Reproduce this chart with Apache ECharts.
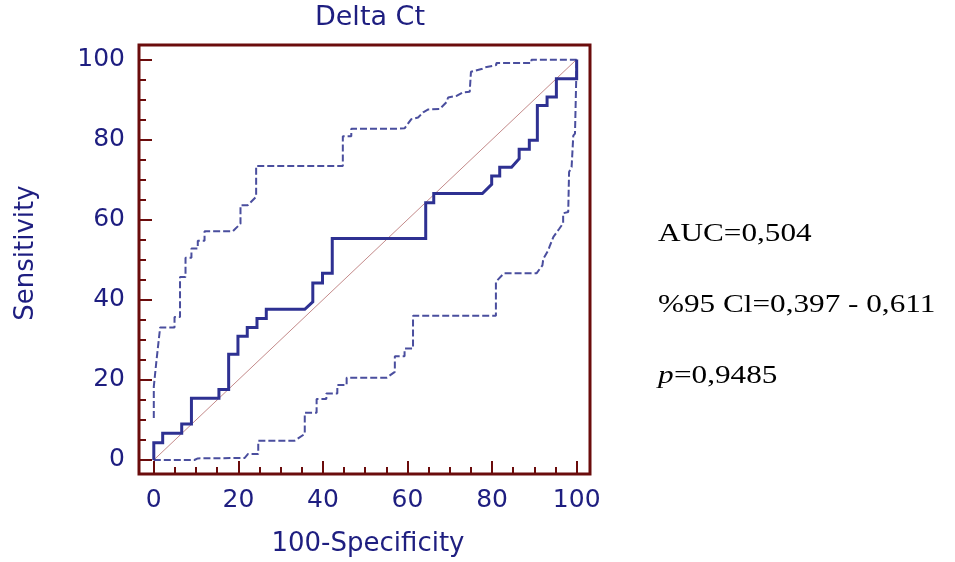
<!DOCTYPE html>
<html>
<head>
<meta charset="utf-8">
<script src="https://cdn.jsdelivr.net/npm/echarts@6/dist/echarts.min.js"></script>
<style>html,body{margin:0;padding:0;background:#fff}#c{width:955px;height:562px}</style>
</head>
<body>
<div id="c"></div>
<script>
// ---- data (percent) ----
const xTickValues = [0, 20, 40, 60, 80, 100];
const yTickValues = [0, 20, 40, 60, 80, 100];
const minorTickValues = [5, 10, 15, 25, 30, 35, 45, 50, 55, 65, 70, 75, 85, 90, 95];

const rocX = [0, 0, 2.1, 2.1, 6.6, 6.6, 8.9, 8.9, 15.4, 15.4, 17.7, 17.7, 19.9, 19.9, 22.1, 22.1, 24.4, 24.4, 26.6, 26.6, 35.7, 37.6, 37.6, 39.9, 39.9, 42.2, 42.2, 64.3, 64.3, 66.2, 66.2, 77.7, 79.9, 79.9, 81.8, 81.8, 84.6, 86.4, 86.4, 88.8, 88.8, 90.7, 90.7, 93.0, 93.0, 95.2, 95.2, 100, 100];
const rocY = [0, 4.3, 4.3, 6.7, 6.7, 9.0, 9.0, 15.4, 15.4, 17.6, 17.6, 26.4, 26.4, 30.9, 30.9, 33.1, 33.1, 35.3, 35.3, 37.6, 37.6, 39.5, 44.2, 44.2, 46.6, 46.6, 55.3, 55.3, 64.2, 64.2, 66.5, 66.5, 68.8, 70.9, 70.9, 73.1, 73.1, 75.2, 77.6, 77.6, 79.8, 79.8, 88.5, 88.5, 90.6, 90.6, 95.2, 95.2, 100];

const upperX = [0, 0, 0.6, 1.5, 4.9, 4.9, 6.2, 6.2, 7.5, 7.5, 8.9, 8.9, 10.4, 10.4, 12.0, 12.0, 18.7, 20.5, 20.5, 22.2, 24.2, 24.2, 44.7, 44.7, 46.7, 46.7, 57.0, 59.3, 60.9, 62.5, 63.7, 64.9, 67.6, 69.2, 69.6, 71.6, 73.1, 74.7, 75.0, 77.5, 78.3, 81.0, 81.0, 89.3, 89.3, 100];
const upperY = [10.5, 18.3, 24.5, 33.1, 33.1, 35.7, 35.7, 45.7, 45.7, 50.5, 50.5, 52.8, 52.8, 54.7, 54.7, 57.1, 57.1, 59.0, 63.6, 63.6, 65.7, 73.4, 73.4, 80.8, 80.8, 82.7, 82.7, 82.8, 85.1, 85.5, 86.8, 87.5, 87.6, 89.3, 90.5, 90.9, 91.8, 91.9, 96.9, 97.6, 98.0, 98.6, 99.1, 99.1, 99.9, 99.9];

const lowerX = [0, 9.6, 10.4, 21.5, 22.3, 24.7, 24.7, 33.3, 35.7, 35.7, 38.5, 38.5, 40.8, 40.8, 43.4, 43.4, 45.6, 45.6, 55.0, 57.0, 57.0, 59.3, 59.3, 61.3, 61.3, 80.9, 80.9, 82.8, 90.5, 91.9, 92.1, 93.3, 93.7, 94.5, 95.8, 96.8, 96.8, 98.0, 98.2, 98.8, 99.2, 99.6, 100, 100];
const lowerY = [0, 0, 0.4, 0.5, 1.5, 1.5, 4.8, 4.8, 6.5, 11.8, 11.8, 15.2, 15.2, 16.6, 16.6, 18.7, 18.7, 20.5, 20.5, 22.0, 25.9, 25.9, 27.8, 27.8, 36.0, 36.0, 44.5, 46.6, 46.6, 48.6, 50.2, 52.4, 53.6, 55.7, 57.6, 59.1, 61.6, 61.9, 71.9, 73.1, 81.0, 81.5, 81.8, 100];

const diagX = [0, 100];
const diagY = [0, 100];

const titleText = 'Delta Ct';
const xName = '100-Specificity';
const yName = 'Sensitivity';
const statLines = ['AUC=0,504', '%95 Cl=0,397 - 0,611', '=0,9485'];

// ---- build ----
const zip = (xs, ys) => xs.map((x, i) => [x, ys[i]]);
const maroon = '#6b0c0c';
const navy = '#1e1e80';

const chart = echarts.init(document.getElementById('c'), null, {renderer: 'canvas'});

function xAxisBase(extra) {
  return Object.assign({
    type: 'value', min: -3.5, max: 103.15, position: 'bottom', gridIndex: 0,
    splitLine: {show: false}, axisLine: {show: false, onZero: false}
  }, extra);
}
function yAxisBase(extra) {
  return Object.assign({
    type: 'value', min: -3.5, max: 103.6, position: 'left', gridIndex: 0,
    splitLine: {show: false}, axisLine: {show: false, onZero: false}
  }, extra);
}
const labelStyle = {color: navy, fontSize: 25, fontFamily: 'DejaVu Sans'};

const option = {
  animation: false,
  backgroundColor: '#ffffff',
  grid: {left: 139, top: 45, width: 451, height: 429, show: true,
         borderColor: maroon, borderWidth: 3, backgroundColor: 'transparent'},
  xAxis: [
    xAxisBase({
      axisTick: {show: true, inside: true, length: 13, customValues: xTickValues,
                 lineStyle: {color: maroon, width: 2}},
      axisLabel: Object.assign({customValues: xTickValues, margin: 14}, labelStyle)
    }),
    xAxisBase({
      axisTick: {show: true, inside: true, length: 7, customValues: minorTickValues,
                 lineStyle: {color: maroon, width: 2}},
      axisLabel: {show: false}
    })
  ],
  yAxis: [
    yAxisBase({
      axisTick: {show: true, inside: true, length: 13, customValues: yTickValues,
                 lineStyle: {color: maroon, width: 2}},
      axisLabel: Object.assign({customValues: yTickValues, margin: 14}, labelStyle)
    }),
    yAxisBase({
      axisTick: {show: true, inside: true, length: 7, customValues: minorTickValues,
                 lineStyle: {color: maroon, width: 2}},
      axisLabel: {show: false}
    })
  ],
  series: [
    {type: 'line', data: zip(diagX, diagY), symbol: 'none', silent: true, z: 1,
     lineStyle: {color: '#c48a8a', width: 1}},
    {type: 'line', data: zip(upperX, upperY), symbol: 'none', silent: true, z: 2,
     lineStyle: {color: '#4a4e9e', width: 2, type: [7, 3]}},
    {type: 'line', data: zip(lowerX, lowerY), symbol: 'none', silent: true, z: 2,
     lineStyle: {color: '#4a4e9e', width: 2, type: [7, 3]}},
    {type: 'line', data: zip(rocX, rocY), symbol: 'none', silent: true, z: 3,
     lineStyle: {color: '#2e3192', width: 3, join: 'miter', cap: 'butt'}}
  ],
  graphic: [
    {type: 'text', x: 370, y: 18, silent: true,
     style: {text: titleText, fill: navy, font: '27px "DejaVu Sans"', align: 'center', verticalAlign: 'middle'}},
    {type: 'text', x: 368, y: 544, silent: true,
     style: {text: xName, fill: navy, font: '26px "DejaVu Sans"', align: 'center', verticalAlign: 'middle'}},
    {type: 'text', x: 26, y: 253, rotation: Math.PI / 2, silent: true,
     style: {text: yName, fill: navy, font: '26px "DejaVu Sans"', align: 'center', verticalAlign: 'middle'}},
    {type: 'text', x: 658, y: 234, scaleX: 1.2, silent: true,
     style: {text: statLines[0], fill: '#000', font: '26px "Liberation Serif"', align: 'left', verticalAlign: 'middle'}},
    {type: 'text', x: 658, y: 305, scaleX: 1.2, silent: true,
     style: {text: statLines[1], fill: '#000', font: '26px "Liberation Serif"', align: 'left', verticalAlign: 'middle'}},
    {type: 'text', x: 658, y: 376, scaleX: 1.2, silent: true,
     style: {text: 'p', fill: '#000', font: 'italic 26px "Liberation Serif"', align: 'left', verticalAlign: 'middle'}},
    {type: 'text', x: 674, y: 376, scaleX: 1.2, silent: true,
     style: {text: statLines[2], fill: '#000', font: '26px "Liberation Serif"', align: 'left', verticalAlign: 'middle'}}
  ]
};
chart.setOption(option);
</script>
</body>
</html>
